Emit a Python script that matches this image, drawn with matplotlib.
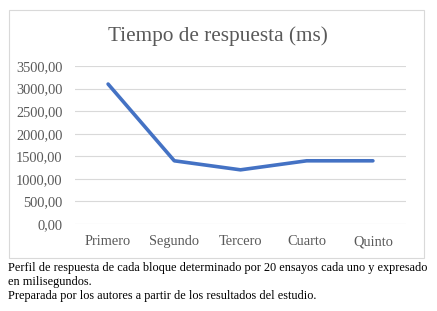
import matplotlib.pyplot as plt
from matplotlib.patches import Rectangle
from matplotlib.ticker import FuncFormatter

bloques = ["Primero", "Segundo", "Tercero", "Cuarto", "Quinto"]
tiempos = [3100, 1400, 1200, 1400, 1400]
ticks_y = [0, 500, 1000, 1500, 2000, 2500, 3000, 3500]

W, H = 437, 311
fig = plt.figure(figsize=(W / 100, H / 100), dpi=100)
plt.rcParams['font.family'] = ['Liberation Serif', 'DejaVu Serif']

# chart frame
fig.patches.append(Rectangle((9 / W, 1 - 258 / H), 415 / W, 248 / H,
                             transform=fig.transFigure, fill=False,
                             edgecolor='#d9d9d9', lw=0.8))

ax = fig.add_axes([75 / W, 1 - 224 / H, 331 / W, 158 / H])
x = range(len(bloques))
ax.plot(x, tiempos, color='#4472c4', lw=2.6, solid_capstyle='round',
        solid_joinstyle='round')
ax.set_xlim(-0.5, len(bloques) - 0.5)
ax.set_ylim(0, 3500)
ax.set_yticks(ticks_y)
ax.yaxis.set_major_formatter(FuncFormatter(lambda v, p: f"{v:.2f}".replace('.', ',')))
ax.set_xticks(list(x))
ax.set_xticklabels(bloques)
ax.grid(axis='y', color='#d9d9d9', lw=0.8)
ax.set_axisbelow(True)
for s in ax.spines.values():
    s.set_visible(False)
ax.tick_params(length=0, colors='#595959', labelsize=10.4)
ax.tick_params(axis='x', pad=8)
ax.tick_params(axis='y', pad=9)

fig.text(218 / W, 1 - 36 / H, "Tiempo de respuesta (ms)", ha='center',
         va='center', fontsize=15.3, color='#595959')

cap = ("Perfil de respuesta de cada bloque determinado por 20 ensayos cada uno y expresado\n"
       "en milisegundos.\n"
       "Preparada por los autores a partir de los resultados del estudio.")
fig.text(8 / W, 1 - 262 / H, cap, ha='left', va='top', fontsize=8.85,
         color='black', linespacing=1.22)

fig.savefig("out.png", dpi=100)
